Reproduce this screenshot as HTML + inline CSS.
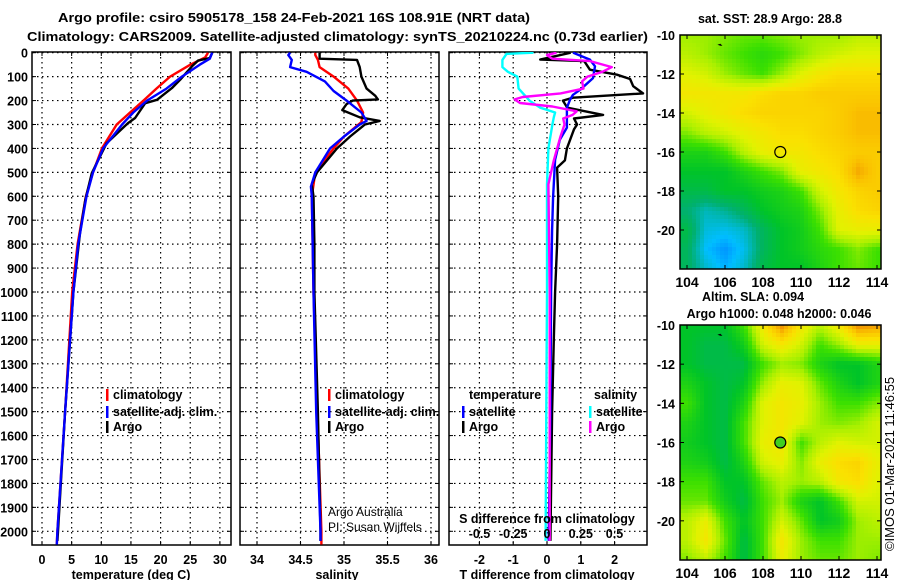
<!DOCTYPE html>
<html><head><meta charset="utf-8"><style>
html,body{margin:0;padding:0;background:#fff;}
svg{display:block;font-family:"Liberation Sans",sans-serif;}
.b{font-weight:bold;font-size:13px;}
.t{font-weight:bold;font-size:12.5px;}
</style></head><body>
<svg id="c" width="900" height="580" viewBox="0 0 900 580" xmlns="http://www.w3.org/2000/svg">
<text class="b" x="58" y="22" textLength="472" lengthAdjust="spacingAndGlyphs">Argo profile: csiro 5905178_158 24-Feb-2021 16S 108.91E (NRT data)</text>
<text class="b" x="27" y="41" textLength="621" lengthAdjust="spacingAndGlyphs">Climatology: CARS2009. Satellite-adjusted climatology: synTS_20210224.nc (0.73d earlier)</text>
<g id="g"></g>
</svg>
<script>
// ---- depth axis ticks
const depthTicks=[0,100,200,300,400,500,600,700,800,900,1000,1100,1200,1300,1400,1500,1600,1700,1800,1900,2000];
// ---- temperature panel
const tTicks=[0,5,10,15,20,25,30];
const climDepth=[0,20,50,100,150,200,300,400,500,600,800,1000,1500,2000,2055];
const climTemp=[28,27.5,25,21.6,19.3,17.1,12.6,10.1,8.6,7.4,6.0,5.1,3.9,2.6,2.5];
const satDepth=[0,25,50,100,150,200,250,300,400,500,600,800,1000,1500,2000,2055];
const satTemp=[28.7,28.3,26.6,23.6,21,17.7,15.4,13.5,10.3,8.6,7.5,6.1,5.3,3.9,2.6,2.5];
const argoDepth=[0,22,33,57,113,148,197,211,273,294,378,503,615,754,1000,1500,2000,2040];
const argoTemp=[28.7,28.3,26.3,25.3,23.3,21.9,19.4,17.4,15.7,14.5,10.9,8.4,7.3,6.4,5.3,3.9,2.7,2.6];
// ---- salinity panel
const sTicks=[34,34.5,35,35.5,36];
const climSDepth=[0,10,30,60,100,150,200,250,290,350,400,500,600,1000,2000,2055];
const climSal=[34.67,34.67,34.70,34.72,34.88,35.05,35.15,35.22,35.2,35.0,34.88,34.67,34.63,34.65,34.74,34.74];
const satSDepth=[0,10,30,60,80,120,160,200,250,285,300,350,400,500,560,600,1000,1500,2000,2040];
const satSal=[34.38,34.36,34.4,34.38,34.57,34.78,34.88,35.03,35.2,35.26,35.18,35.0,34.84,34.67,34.62,34.63,34.65,34.68,34.73,34.73];
const argoSDepth=[0,25,30,60,100,150,180,195,200,215,240,270,285,300,350,400,500,550,600,800,1000,1500,2000,2040];
const argoSal=[34.72,34.72,35.15,35.18,35.2,35.26,35.36,35.39,35.1,35.03,34.98,35.18,35.41,35.24,35.07,34.92,34.69,34.63,34.65,34.66,34.66,34.70,34.73,34.73];
// ---- difference panel
const dTTicks=[-2,-1,0,1,2];
const dSTicks=[-0.5,-0.25,0,0.25,0.5];
const satDTDepth=[0,29,57,106,155,176,197,230,313,364,447,602,740,1000,1500,2040];
const satDT=[0.77,1.27,1.42,1.36,0.98,0.77,0.68,0.59,0.59,0.38,0.24,0.18,0.15,0.12,0.1,0.05];
const argoDTDepth=[0,29,35,71,92,110,140,170,188,200,230,260,275,300,320,400,450,480,600,800,1000,1200,1500,2040];
const argoDT=[0.7,-0.2,1.1,1.27,2.07,2.46,2.55,2.84,0.77,0.47,0.6,1.66,0.8,0.89,0.8,0.59,0.53,0.3,0.33,0.3,0.24,0.2,0.15,0.1];
const satDSDepth=[0,5,30,60,80,100,150,200,230,250,270,300,400,550,1000,1500,2040];
const satDS=[-0.1,-0.3,-0.33,-0.33,-0.29,-0.22,-0.21,-0.13,-0.05,0.06,0.05,0.04,0.01,0,0,-0.005,-0.01];
const argoDSDepth=[0,10,25,35,60,80,100,120,150,170,185,195,210,225,245,260,275,300,350,450,550,1000,1500,2040];
const argoDS=[0.07,0,0.04,0.32,0.48,0.41,0.30,0.26,0.27,0.1,-0.18,-0.24,-0.2,0.04,0.22,0.19,0.12,0.13,0.1,0.05,0.01,0.02,0.02,0.02];
// ---- maps
const mapLons=[104,105,106,107,108,109,110,111,112,113,114];
const mapLats=[-10,-11,-12,-13,-14,-15,-16,-17,-18,-19,-20,-21,-22];
const sstGrid=[
[.62,.62,.60,.58,.58,.60,.62,.62,.62,.65,.65],
[.65,.62,.58,.55,.52,.55,.60,.65,.68,.70,.70],
[.70,.68,.62,.58,.55,.62,.70,.75,.78,.78,.78],
[.75,.75,.75,.75,.78,.80,.80,.82,.82,.82,.82],
[.68,.72,.75,.78,.80,.80,.80,.80,.82,.85,.85],
[.60,.65,.68,.72,.75,.78,.78,.80,.82,.85,.85],
[.50,.50,.55,.65,.72,.75,.75,.78,.80,.82,.82],
[.45,.45,.45,.50,.55,.60,.72,.75,.78,.88,.82],
[.42,.42,.45,.45,.48,.50,.55,.68,.75,.80,.82],
[.38,.34,.36,.40,.45,.48,.50,.60,.72,.78,.80],
[.42,.32,.31,.33,.40,.45,.48,.55,.70,.72,.72],
[.40,.30,.27,.31,.40,.45,.48,.52,.55,.60,.55],
[.40,.33,.29,.33,.42,.45,.45,.50,.55,.58,.55]];
const slaGrid=[
[.45,.45,.45,.55,.75,.92,.75,.65,.75,.92,.90],
[.45,.42,.42,.48,.68,.75,.68,.55,.62,.72,.72],
[.45,.42,.42,.42,.55,.62,.60,.50,.45,.45,.50],
[.50,.45,.42,.45,.62,.72,.70,.58,.50,.45,.50],
[.55,.45,.42,.50,.70,.75,.72,.62,.55,.55,.60],
[.50,.45,.42,.55,.70,.75,.70,.62,.60,.62,.68],
[.48,.45,.42,.55,.72,.75,.55,.65,.70,.68,.68],
[.50,.48,.42,.50,.68,.72,.60,.72,.78,.80,.72],
[.55,.55,.45,.45,.58,.65,.62,.65,.75,.78,.70],
[.58,.58,.48,.42,.55,.62,.50,.45,.55,.68,.68],
[.65,.72,.55,.45,.55,.68,.58,.45,.48,.62,.65],
[.65,.75,.58,.42,.55,.75,.62,.55,.55,.62,.62],
[.60,.65,.55,.42,.55,.72,.62,.58,.58,.62,.60]];
const argoLon=108.91, argoLat=-16.0;
const latTicks=[-10,-12,-14,-16,-18,-20];
const lonTicks=[104,106,108,110,112,114];

const NS="http://www.w3.org/2000/svg";
const G=document.getElementById('g');
function mk(tag,attrs,parent){const e=document.createElementNS(NS,tag);for(const k in attrs)e.setAttribute(k,attrs[k]);(parent||G).appendChild(e);return e;}
const Y0=52.7,YS=0.2393,PT=52,PB=545;
const yD=d=>Y0+d*YS;
const xT=v=>42+v*5.93;
const xS=v=>257+(v-34)*87;
const xDT=v=>547+v*33.8;
const xDS=v=>547+v*135;
const panels=[[32,231],[240,439],[449,647]];

const defs=mk('defs',{});
panels.forEach((p,i)=>{const cp=mk('clipPath',{id:'cp'+i},defs);mk('rect',{x:p[0],y:PT,width:p[1]-p[0],height:PB-PT},cp);});

const vgrid=[tTicks.map(xT),sTicks.map(xS),dTTicks.map(xDT)];
panels.forEach((p,i)=>{
  const gg=mk('g',{});
  
  
  depthTicks.forEach(d=>{mk('line',{x1:p[0],x2:p[1],y1:yD(d),y2:yD(d),stroke:'#000','stroke-width':1.2,'stroke-dasharray':'1.5 3.5'},gg);
    mk('line',{x1:p[0],x2:p[0]+4,y1:yD(d),y2:yD(d),stroke:'#000'},gg);mk('line',{x1:p[1]-4,x2:p[1],y1:yD(d),y2:yD(d),stroke:'#000'},gg);});
  vgrid[i].forEach(x=>{mk('line',{x1:x,x2:x,y1:PT,y2:PB,stroke:'#000','stroke-width':1.2,'stroke-dasharray':'1.5 3.5'},gg);
    mk('line',{x1:x,x2:x,y1:PT,y2:PT+4,stroke:'#000'},gg);mk('line',{x1:x,x2:x,y1:PB-4,y2:PB,stroke:'#000'},gg);});
  const fr=mk('rect',{x:p[0],y:PT,width:p[1]-p[0],height:PB-PT,fill:'none',stroke:'#000','stroke-width':1.5});
  
  
});

depthTicks.forEach(d=>{const t=mk('text',{x:28,y:yD(d)+5,'text-anchor':'end',class:'t'});t.textContent=d;
  
  });

function line(xs,ds,fx,color,ci,name){
  const pts=xs.map((v,i)=>fx(v).toFixed(1)+','+yD(ds[i]).toFixed(1)).join(' ');
  const e=mk('polyline',{points:pts,fill:'none',stroke:color,'stroke-width':2.4,'stroke-linejoin':'round','clip-path':'url(#cp'+ci+')'});
  
  
}
line(climTemp,climDepth,xT,'#f00',0,'temp-climatology-line');
line(argoTemp,argoDepth,xT,'#000',0,'temp-argo-line');
line(satTemp,satDepth,xT,'#00f',0,'temp-satellite-line');
line(climSal,climSDepth,xS,'#f00',1,'sal-climatology-line');
line(argoSal,argoSDepth,xS,'#000',1,'sal-argo-line');
line(satSal,satSDepth,xS,'#00f',1,'sal-satellite-line');
line(satDS,satDSDepth,xDS,'#0ff',2,'sdiff-satellite-line');
line(argoDT,argoDTDepth,xDT,'#000',2,'tdiff-argo-line');
line(satDT,satDTDepth,xDT,'#00f',2,'tdiff-satellite-line');
line(argoDS,argoDSDepth,xDS,'#f0f',2,'sdiff-argo-line');

function xlabels(ticks,fx,y,name){ticks.forEach(v=>{const t=mk('text',{x:fx(v),y:y,'text-anchor':'middle',class:'t'});t.textContent=v;
  
  });}
xlabels(tTicks,xT,564,'temp-tick-label');
xlabels(sTicks,xS,564,'sal-tick-label');
xlabels(dTTicks,xDT,564,'tdiff-tick-label');
xlabels(dSTicks,xDS,538,'sdiff-tick-label');
function txt(s,x,y,name,anchor,cls,extra){const t=mk('text',Object.assign({x:x,y:y,'text-anchor':anchor||'start',class:cls||'t'},extra||{}));t.textContent=s;
  
  return t;}
txt('temperature (deg C)',131,579,'temp-axis-title','middle');
txt('salinity',337,579,'sal-axis-title','middle');
txt('T difference from climatology',547,579,'tdiff-axis-title','middle');
txt('S difference from climatology',547,523,'sdiff-axis-title','middle');
txt('Argo Australia',328,516,'credit-argo-australia','start','',{style:'font-size:12px;font-weight:normal'});
txt('PI: Susan Wijffels',328,531,'credit-pi','start','',{style:'font-size:12px;font-weight:normal'});

function leg(x,y,color,label,name){const g=mk('g',{});
  mk('rect',{x:x,y:y-10,width:2.5,height:12,fill:color},g);
  const t=mk('text',{x:x+7,y:y,class:'t'},g);t.textContent=label;}
leg(106,399,'#f00','climatology','legend-temp-climatology');
leg(106,416,'#00f','satellite-adj. clim.','legend-temp-satellite');
leg(106,431,'#000','Argo','legend-temp-argo');
leg(328,399,'#f00','climatology','legend-sal-climatology');
leg(328,416,'#00f','satellite-adj. clim.','legend-sal-satellite');
leg(328,431,'#000','Argo','legend-sal-argo');
txt('temperature',469,399,'legend-title-temperature');
txt('salinity',594,399,'legend-title-salinity');
leg(462,416,'#00f','satellite','legend-tdiff-satellite');
leg(462,431,'#000','Argo','legend-tdiff-argo');
leg(589,416,'#0ff','satellite','legend-sdiff-satellite');
leg(589,431,'#f0f','Argo','legend-sdiff-argo');

const cstops=[[0.15,[0,0,180]],[0.22,[0,80,255]],[0.3,[0,190,255]],[0.38,[0,176,112]],[0.45,[0,196,40]],[0.55,[60,224,0]],[0.63,[170,240,0]],[0.7,[225,242,0]],[0.77,[250,225,0]],[0.84,[250,195,0]],[0.92,[240,140,0]],[1,[220,90,0]]];
function cmap(v){if(v<=cstops[0][0])return cstops[0][1];for(let i=1;i<cstops.length;i++){if(v<=cstops[i][0]){const a=cstops[i-1],b=cstops[i],f=(v-a[0])/(b[0]-a[0]);return a[1].map((c,k)=>Math.round(c+(b[1][k]-c)*f));}}return cstops[cstops.length-1][1];}
function interp(grid,lon,lat){let fx=(lon-104),fy=(-10-lat);fx=Math.max(0,Math.min(10,fx));fy=Math.max(0,Math.min(12,fy));
  const i0=Math.min(9,Math.floor(fx)),j0=Math.min(11,Math.floor(fy)),tx=fx-i0,ty=fy-j0;
  return grid[j0][i0]*(1-tx)*(1-ty)+grid[j0][i0+1]*tx*(1-ty)+grid[j0+1][i0]*(1-tx)*ty+grid[j0+1][i0+1]*tx*ty;}
function drawMap(grid,top,bot,name,fillMarker,cell){
  const L=680,R=881,x104=687,pxPerLon=19,pyPerLat=(bot-top)/12;
  const lx=lon=>x104+(lon-104)*pxPerLon, ly=lat=>top+(-10-lat)*pyPerLat;
  const g=mk('g',{});
  for(let y=top;y<bot;y+=cell){for(let x=L;x<R;x+=cell){
    const lon=104+(x+cell/2-x104)/pxPerLon, lat=-10-(y+cell/2-top)/pyPerLat;
    const c=cmap(interp(grid,lon,lat));
    mk('rect',{x:x,y:y,width:Math.min(cell,R-x)+0.3,height:Math.min(cell,bot-y)+0.3,fill:'rgb('+c.join(',')+')'},g);}}
  const fr=mk('rect',{x:L,y:top,width:R-L,height:bot-top,fill:'none',stroke:'#000','stroke-width':1.5});
  
  
  latTicks.forEach(v=>{mk('line',{x1:L,x2:L+4,y1:ly(v),y2:ly(v),stroke:'#000'});mk('line',{x1:R-4,x2:R,y1:ly(v),y2:ly(v),stroke:'#000'});
    txt(String(v),675,ly(v)+5,name+'-lat-label','end');});
  lonTicks.forEach(v=>{mk('line',{x1:lx(v),x2:lx(v),y1:top,y2:top+4,stroke:'#000'});mk('line',{x1:lx(v),x2:lx(v),y1:bot-4,y2:bot,stroke:'#000'});
    txt(String(v),lx(v),bot+18,name+'-lon-label','middle','b',{style:'font-size:14px'});});
  const m=mk('circle',{cx:lx(argoLon),cy:ly(argoLat),r:5.5,fill:fillMarker,stroke:'#000','stroke-width':1.2});
  
  
  mk('path',{d:`M${lx(105.6)} ${ly(-10.5)} l3 -1 l2 2 l-2 0 z`,fill:'#000'});
}
drawMap(sstGrid,35,269,'sst-map','none',4);
drawMap(slaGrid,325,560,'sla-map','#40d020',4);
txt('sat. SST: 28.9 Argo: 28.8',770,23,'sst-map-title','middle');
txt('Altim. SLA: 0.094',753,301,'sla-map-title','middle');
txt('Argo h1000: 0.048 h2000: 0.046',779,318,'sla-argo-heights','middle');
txt('©IMOS 01-Mar-2021 11:46:55',0,0,'imos-timestamp','middle','',{style:'font-size:13px;font-weight:normal',transform:'translate(894,464) rotate(-90)'});
</script>
</body></html>
